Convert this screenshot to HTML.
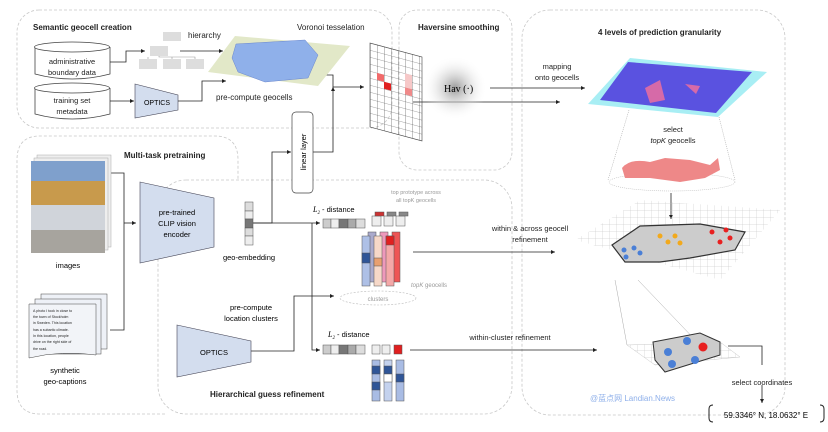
<!DOCTYPE html>
<html><head><meta charset="utf-8"><style>
body{margin:0;background:#fff}
svg{display:block;font-family:"Liberation Sans","Noto Sans CJK SC",sans-serif}
</style></head><body>
<svg width="828" height="432" viewBox="0 0 828 432" xmlns="http://www.w3.org/2000/svg">
<defs>
<marker id="a" markerWidth="6" markerHeight="6" refX="5" refY="3" orient="auto"><path d="M0,0.5 L5,3 L0,5.5z" fill="#222"/></marker>
<radialGradient id="g"><stop offset="0" stop-color="#999"/><stop offset="1" stop-color="#fff" stop-opacity="0"/></radialGradient>
<pattern id="grid" width="7" height="7" patternUnits="userSpaceOnUse"><path d="M7 0H0V7" fill="none" stroke="#bbb" stroke-width="0.5"/></pattern>
<pattern id="grid2" width="7" height="7" patternUnits="userSpaceOnUse"><path d="M7 0H0V7" fill="none" stroke="#444" stroke-width="0.6"/></pattern>
</defs>
<g fill="none" stroke="#c8c8c8" stroke-dasharray="3,2" stroke-width="0.8">
<rect x="17" y="10" width="375" height="118" rx="22"/>
<rect x="399" y="10" width="113" height="160" rx="18"/>
<rect x="522" y="10" width="263" height="405" rx="28"/>
<path d="M165 414 H40 Q17 414 17 390 V160 Q17 136 40 136 H215 Q238 136 238 160 V180"/>
<rect x="158" y="180" width="354" height="234" rx="28"/>
</g>
<g font-size="8" fill="#222">
<text x="33" y="30" font-weight="bold">Semantic geocell creation</text>
<text x="418" y="30" font-weight="bold">Haversine smoothing</text>
<text x="598" y="35" font-weight="bold">4 levels of prediction granularity</text>
<text x="124" y="158" font-weight="bold">Multi-task pretraining</text>
<text x="210" y="397" font-weight="bold">Hierarchical guess refinement</text>
<text x="297" y="30">Voronoi tesselation</text>
<text x="188" y="38">hierarchy</text>
<text x="216" y="100">pre-compute geocells</text>
</g>
<!-- cylinders -->
<g stroke="#444" stroke-width="0.8" fill="#fff">
<path d="M35 88 V114 Q72 124 110 114 V88"/><ellipse cx="72" cy="88" rx="37.5" ry="5"/>
<path d="M35 47 V74 Q72 84 110 74 V47"/><ellipse cx="72" cy="47" rx="37.5" ry="5"/>
</g>
<g font-size="7.5" fill="#222" text-anchor="middle">
<text x="72" y="64">administrative</text><text x="72" y="75">boundary data</text>
<text x="72" y="103">training set</text><text x="72" y="114">metadata</text>
</g>
<path d="M135 84 L178 95 L178 110 L135 118Z" fill="#d3ddee" stroke="#445" stroke-width="0.6"/>
<text x="157" y="105" font-size="7" text-anchor="middle">OPTICS</text>
<g fill="#ddd"><rect x="163" y="32" width="18" height="9"/><rect x="150" y="46" width="18" height="10"/><rect x="139" y="59" width="18" height="10"/><rect x="163" y="59" width="18" height="10"/><rect x="186" y="59" width="18" height="10"/></g>
<path d="M159 56V57H195V59M172 57V59M148 57V59" stroke="#999" fill="none" stroke-width="0.6"/>
<g stroke="#222" stroke-width="0.8" fill="none" marker-end="url(#a)">
<path d="M110 62 H126 V51 H145"/><path d="M180 51 H223"/><path d="M110 101 H134"/>
<path d="M178 101 H202 V81 H226"/><path d="M318 75 H333 V87 H364"/>
<path d="M490 88 H585"/>
<path d="M253 223 H272 V152 H291"/><path d="M313 152 H333 V87"/>
<path d="M253 223 H320"/><path d="M312 223 V350 H320"/>
<path d="M251 351 H294 V296 H334"/>
<path d="M413 102 H560"/>
<path d="M413 252 H555"/><path d="M410 350 H597"/>
<path d="M671 193 V219"/><path d="M762 385 V403"/>
<path d="M124 223 H136"/>
</g>
<path d="M110 173 H124 V330 H110" stroke="#222" fill="none" stroke-width="0.8"/>
<path d="M728 346 H762 V365" stroke="#222" fill="none" stroke-width="0.8"/>
<!-- map 1 -->
<path d="M208 72 L235 36 L350 46 L318 86Z" fill="#e2e8c8"/>
<path d="M236 44 L305 40 L318 55 L308 78 L265 82 L238 72 L232 58Z" fill="#8fb0ea" stroke="#6a86cc" stroke-width="0.5"/>
<!-- grid -->
<g transform="translate(370,43) skewY(15)">
<rect width="52" height="84" fill="url(#grid2)" stroke="#444" stroke-width="0.6"/>
<rect x="7" y="28" width="7" height="7" fill="#f26b6b"/><rect x="14" y="35" width="7" height="7" fill="#e02020"/><rect x="35" y="21" width="7" height="14" fill="#f6c8c8"/><rect x="35" y="35" width="7" height="7" fill="#f08a8a"/>
</g>
<circle cx="455" cy="88" r="32" fill="url(#g)"/>
<text x="444" y="92" font-family="Liberation Serif" font-size="10">Hav (·)</text>
<!-- linear layer -->
<rect x="292" y="112" width="21" height="81" rx="4" fill="#fff" stroke="#444" stroke-width="0.7"/>
<text transform="translate(306,152) rotate(-90)" font-size="7.5" text-anchor="middle">linear layer</text>
<!-- images -->
<rect x="37" y="155" width="74" height="92" fill="#eee" stroke="#aaa" stroke-width="0.5"/>
<rect x="34" y="158" width="74" height="92" fill="#eee" stroke="#aaa" stroke-width="0.5"/>
<rect x="31" y="161" width="74" height="92" fill="#a7a49e"/>
<rect x="31" y="161" width="74" height="20" fill="#7fa0cc"/>
<rect x="31" y="181" width="74" height="24" fill="#c89a4c"/>
<rect x="31" y="205" width="74" height="25" fill="#d0d4da"/>
<text x="68" y="268" font-size="7.5" text-anchor="middle">images</text>
<!-- captions -->
<rect x="41" y="294" width="66" height="55" fill="#eef1f7" stroke="#444" stroke-width="0.5"/>
<rect x="35" y="299" width="66" height="55" fill="#eef1f7" stroke="#444" stroke-width="0.5"/>
<path d="M29 304 H96 V355 Q62 350 29 358Z" fill="#f2f4f8" stroke="#444" stroke-width="0.5"/>
<g font-size="3.6" fill="#222"><text x="33" y="312">A photo I took in close to</text><text x="33" y="318">the town of Stockholm</text><text x="33" y="324">in Sweden. This location</text><text x="33" y="331">has a subartic climate.</text><text x="33" y="337">In this location, people</text><text x="33" y="343">drive on the right side of</text><text x="33" y="350">the road.</text></g>
<text x="65" y="373" font-size="7.5" text-anchor="middle">synthetic</text><text x="65" y="384" font-size="7.5" text-anchor="middle">geo-captions</text>
<!-- CLIP -->
<path d="M140 182 L214 198 L214 247 L140 263Z" fill="#d3ddee" stroke="#445" stroke-width="0.6"/>
<g font-size="7.5" text-anchor="middle"><text x="177" y="215">pre-trained</text><text x="177" y="226">CLIP vision</text><text x="177" y="237">encoder</text></g>
<g stroke="#555" stroke-width="0.5"><rect x="245" y="202" width="8" height="9" fill="#ddd"/><rect x="245" y="211" width="8" height="8" fill="#eee"/><rect x="245" y="219" width="8" height="9" fill="#777"/><rect x="245" y="228" width="8" height="8" fill="#ddd"/><rect x="245" y="236" width="8" height="9" fill="#eee"/></g>
<text x="249" y="260" font-size="7.5" text-anchor="middle">geo-embedding</text>
<text x="313" y="212" font-size="8" font-family="Liberation Serif" font-style="italic">L<tspan font-size="5" dy="2">2</tspan><tspan dy="-2" font-family="Liberation Sans" font-style="normal" font-size="7.5"> - distance</tspan></text>
<text x="328" y="337" font-size="8" font-family="Liberation Serif" font-style="italic">L<tspan font-size="5" dy="2">2</tspan><tspan dy="-2" font-family="Liberation Sans" font-style="normal" font-size="7.5"> - distance</tspan></text>
<g stroke="#555" stroke-width="0.5">
<rect x="323" y="219" width="8" height="9" fill="#ccc"/><rect x="331" y="219" width="8" height="9" fill="#eee"/><rect x="339" y="219" width="9" height="9" fill="#777"/><rect x="348" y="219" width="8" height="9" fill="#aaa"/><rect x="356" y="219" width="9" height="9" fill="#ddd"/>
<rect x="323" y="345" width="8" height="9" fill="#ccc"/><rect x="331" y="345" width="8" height="9" fill="#eee"/><rect x="339" y="345" width="9" height="9" fill="#777"/><rect x="348" y="345" width="8" height="9" fill="#aaa"/><rect x="356" y="345" width="9" height="9" fill="#ddd"/>
<rect x="372" y="216" width="9" height="10" fill="#eee"/><rect x="384" y="216" width="9" height="10" fill="#eee"/><rect x="396" y="216" width="9" height="10" fill="#eee"/>
<rect x="375" y="212" width="9" height="4" fill="#c33"/><rect x="387" y="212" width="9" height="4" fill="#888"/><rect x="399" y="212" width="9" height="4" fill="#888"/>
<rect x="372" y="345" width="8" height="9" fill="#eee"/><rect x="382" y="345" width="8" height="9" fill="#eee"/><rect x="394" y="345" width="8" height="9" fill="#e02020"/>
</g>
<!-- cluster stacks -->
<g stroke="#555" stroke-width="0.5">
<rect x="368" y="232" width="8" height="50" fill="#aac"/><rect x="380" y="232" width="8" height="50" fill="#e9b"/><rect x="392" y="232" width="8" height="50" fill="#e55"/>
<rect x="362" y="236" width="8" height="50" fill="#aec0e6"/><rect x="362" y="253" width="8" height="10" fill="#2f5597"/>
<rect x="374" y="236" width="8" height="50" fill="#f6d8c8"/><rect x="374" y="258" width="8" height="8" fill="#e8a070"/>
<rect x="386" y="236" width="8" height="50" fill="#f4a8a8"/><rect x="386" y="236" width="8" height="9" fill="#e02020"/>
<rect x="372" y="360" width="8" height="41" fill="#a9bce4"/><rect x="372" y="366" width="8" height="8" fill="#2f5597"/><rect x="372" y="382" width="8" height="8" fill="#2f5597"/>
<rect x="384" y="360" width="8" height="41" fill="#c4d2ee"/><rect x="384" y="366" width="8" height="8" fill="#2f5597"/><rect x="384" y="374" width="8" height="8" fill="#fff"/>
<rect x="396" y="360" width="8" height="41" fill="#a9bce4"/><rect x="396" y="374" width="8" height="8" fill="#2f5597"/>
</g>
<ellipse cx="378" cy="298" rx="38" ry="7" fill="none" stroke="#bbb" stroke-dasharray="2,1.5" stroke-width="0.6"/>
<text x="378" y="301" font-size="6" fill="#999" text-anchor="middle">clusters</text>
<text x="416" y="194" font-size="5.5" fill="#999" text-anchor="middle">top prototype across</text>
<text x="416" y="202" font-size="5.5" fill="#999" text-anchor="middle">all topK geocells</text>
<text x="411" y="287" font-size="6" fill="#999" font-style="italic">topK <tspan font-style="normal">geocells</tspan></text>
<text x="251" y="310" font-size="7.5" text-anchor="middle">pre-compute</text><text x="251" y="321" font-size="7.5" text-anchor="middle">location clusters</text>
<path d="M177 325 L251 341 L251 362 L177 377Z" fill="#d3ddee" stroke="#445" stroke-width="0.6"/>
<text x="214" y="355" font-size="7.5" text-anchor="middle">OPTICS</text>
<g font-size="7.5" text-anchor="middle" fill="#222">
<text x="557" y="69">mapping</text><text x="557" y="80">onto geocells</text>
<text x="530" y="231">within &amp; across geocell</text><text x="530" y="242">refinement</text>
<text x="510" y="340">within-cluster refinement</text>
<text x="673" y="132">select</text><text x="673" y="143"><tspan font-style="italic">topK</tspan> geocells</text>
<text x="762" y="385">select coordinates</text>
</g>
<!-- right maps -->
<path d="M588 104 L630 58 L767 72 L718 117Z" fill="#a8eef4"/>
<path d="M600 100 L628 62 L752 72 L716 113Z" fill="#5a52e0"/>
<path d="M645 88 L660 80 L665 100 L650 103Z" fill="#d66aa8"/><path d="M685 84 L700 86 L696 94Z" fill="#d66aa8"/>
<path d="M629 110 L608 180 M719 117 L735 180" stroke="#999" stroke-width="0.5" stroke-dasharray="1,1"/>
<ellipse cx="672" cy="182" rx="63" ry="9" fill="none" stroke="#aaa" stroke-width="0.5" stroke-dasharray="1,1"/>
<path d="M622 168 Q630 158 650 162 L665 158 L690 160 L710 165 L718 158 L720 170 L705 178 L680 182 L650 178 L625 178Z" fill="#e88" />
<path d="M575 240 L640 200 L780 210 L720 280Z" fill="url(#grid)"/>
<path d="M612 245 L640 226 L700 224 L745 232 L735 250 L690 258 L660 262 L625 262Z" fill="#ccc" stroke="#333" stroke-width="1.2"/>
<g fill="#4a7fd6"><circle cx="624" cy="250" r="2.5"/><circle cx="634" cy="248" r="2.5"/><circle cx="626" cy="257" r="2.5"/><circle cx="640" cy="253" r="2.5"/></g>
<g fill="#f2a91c"><circle cx="660" cy="236" r="2.5"/><circle cx="675" cy="236" r="2.5"/><circle cx="668" cy="242" r="2.5"/><circle cx="680" cy="243" r="2.5"/></g>
<g fill="#e82020"><circle cx="712" cy="232" r="2.5"/><circle cx="726" cy="230" r="2.5"/><circle cx="730" cy="238" r="2.5"/><circle cx="720" cy="242" r="2.5"/></g>
<path d="M615 280 L627 345 M638 280 L700 345" stroke="#aaa" stroke-width="0.5"/>
<path d="M627 345 L720 342 L740 357 L655 365Z" fill="url(#grid)" stroke="#bbb" stroke-width="0.4"/>
<path d="M653 342 L700 333 L720 342 L720 355 L665 372 L655 360Z" fill="#ccc" stroke="#333" stroke-width="1"/>
<g fill="#4a7fd6"><circle cx="668" cy="352" r="4"/><circle cx="687" cy="341" r="4"/><circle cx="672" cy="364" r="4"/><circle cx="695" cy="360" r="4"/></g>
<circle cx="703" cy="347" r="4.5" fill="#e82020"/>
<text x="590" y="401" font-size="8" fill="#8fb0ea">@蓝点网 Landian.News</text>
<path d="M713 405 Q709 405 709 409 V418 Q709 422 713 422 M820 405 Q824 405 824 409 V418 Q824 422 820 422" stroke="#222" fill="none" stroke-width="1"/>
<text x="766" y="418" font-size="8" text-anchor="middle">59.3346° N, 18.0632° E</text>
</svg>
</body></html>
